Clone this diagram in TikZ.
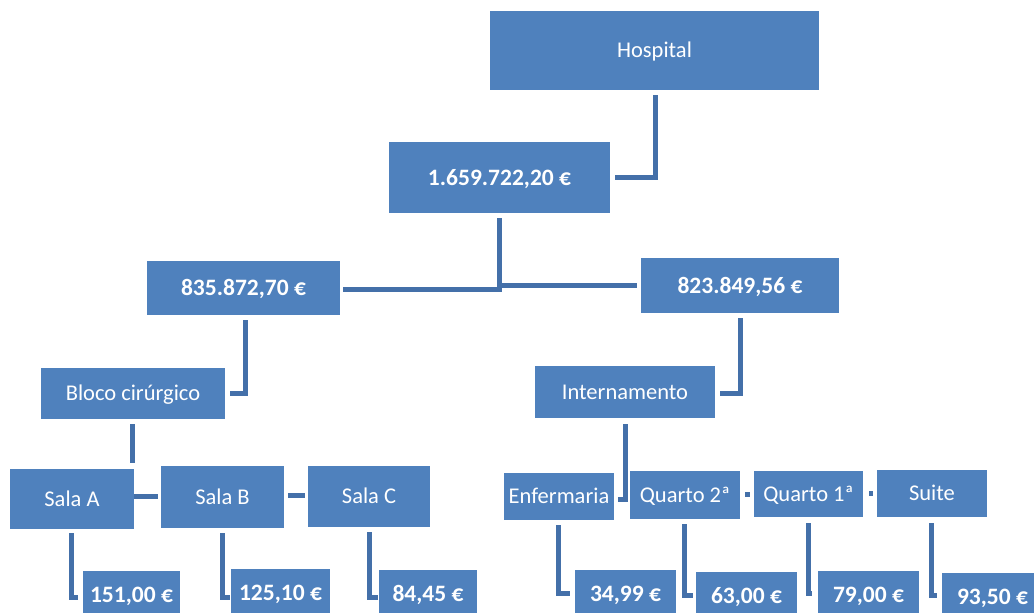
\documentclass[tikz,border=0pt]{standalone}
\usepackage{fontspec}
\setmainfont{Carlito}
\usetikzlibrary{calc}
\definecolor{boxblue}{HTML}{4F81BD}
\definecolor{connblue}{HTML}{4470A9}
\begin{document}
\begin{tikzpicture}[x=1pt,y=-1pt,
  box/.style={fill=boxblue, text=white, inner sep=0pt, draw=none,
    font=\fontsize{22.5}{26}\selectfont, text height=14.8pt, text depth=0pt},
  val/.style={box, font=\fontsize{23.5}{27}\selectfont\bfseries, text height=15.2pt},
  conn/.style={draw=connblue, line width=5pt}]
\useasboundingbox (0,0) rectangle (1034,613);
% nodes
\node[box, minimum width=329pt, minimum height=79pt] (hosp) at (654.5,50.5) {Hospital};
\node[val, minimum width=221pt, minimum height=71pt] (tot) at (499.5,177.5) {1.659.722,20 €};
\node[val, minimum width=193pt, minimum height=54pt] (bc) at (243.5,288) {835.872,70 €};
\node[val, minimum width=198pt, minimum height=55pt] (int) at (740,285.5) {823.849,56 €};
\node[box, minimum width=184pt, minimum height=51pt] (bloco) at (133,393.5) {Bloco cirúrgico};
\node[box, minimum width=180pt, minimum height=52pt] (intern) at (625,392) {Internamento};
\node[box, minimum width=124pt, minimum height=60pt] (salaA) at (72,499) {Sala A};
\node[box, minimum width=123pt, minimum height=62pt] (salaB) at (222.5,497) {Sala B};
\node[box, minimum width=122pt, minimum height=61pt] (salaC) at (369,496.5) {Sala C};
\node[box, minimum width=110pt, minimum height=47pt] (enf) at (559,496.5) {Enfermaria};
\node[box, minimum width=110pt, minimum height=48pt] (q2) at (685,495) {Quarto 2ª};
\node[box, minimum width=109pt, minimum height=46pt] (q1) at (808.5,494) {Quarto 1ª};
\node[box, minimum width=110pt, minimum height=47pt] (suite) at (932,493.5) {Suite};
\node[val, minimum width=97pt, minimum height=48pt] (v151) at (131.5,595) {151,00 €};
\node[val, minimum width=99pt, minimum height=48pt] (v125) at (280.5,593) {125,10 €};
\node[val, minimum width=98pt, minimum height=48pt] (v84) at (428,594) {84,45 €};
\node[val, minimum width=101pt, minimum height=48pt] (v34) at (625.5,594) {34,99 €};
\node[val, minimum width=101pt, minimum height=48pt] (v63) at (746.5,596) {63,00 €};
\node[val, minimum width=101pt, minimum height=48pt] (v79) at (868.5,595) {79,00 €};
\node[val, minimum width=101pt, minimum height=48pt] (v93) at (992.5,597) {93,50 €};
% connectors
\draw[conn] ([xshift=0.5pt,yshift=-5pt]hosp.south) |- ([xshift=5pt]tot.east);
\draw[conn] ([yshift=-5pt]tot.south) |- ([xshift=3pt,yshift=-1pt]bc.east);
\draw[conn] ([yshift=-5pt]tot.south) |- ([xshift=-4pt]int.west);
\draw[conn] ([xshift=1.5pt,yshift=-5pt]bc.south) |- ([xshift=5pt]bloco.east);
\draw[conn] ([yshift=-5pt]int.south) |- ([xshift=5pt,yshift=-1pt]intern.east);
\draw[conn] ([xshift=-1pt,yshift=-5pt]bloco.south) -- ($(bloco.south |- salaA.north)+(-1pt,6pt)$);
\draw[conn] ([yshift=3pt]salaA.east) -- ([xshift=-3pt,yshift=1pt]salaB.west);
\draw[conn] ([xshift=4pt,yshift=2pt]salaB.east) -- ([xshift=-3pt,yshift=1.5pt]salaC.west);
\draw[conn] ([xshift=-1pt,yshift=-4pt]salaA.south) |- ([xshift=-5pt,yshift=-2pt]v151.west);
\draw[conn] ([yshift=-5pt]salaB.south) |- ([xshift=-1pt,yshift=-4pt]v125.west);
\draw[conn] ([yshift=-5pt]salaC.south) |- ([xshift=-1pt,yshift=-3pt]v84.west);
\draw[conn] ([yshift=-6pt]intern.south) |- ([xshift=4pt,yshift=-2.5pt]enf.east);
\draw[conn] ([xshift=5pt,yshift=1pt]q2.east) -- ([xshift=-4pt]q1.west);
\draw[conn] ([xshift=6pt,yshift=1pt]q1.east) -- ([xshift=-4pt,yshift=0.5pt]suite.west);
\draw[conn] ([xshift=-1pt,yshift=-5pt]enf.south) |- ([xshift=-5pt,yshift=1pt]v34.west);
\draw[conn] ([xshift=-1pt,yshift=-5pt]q2.south) |- ([xshift=-3pt,yshift=1pt]v63.west);
\draw[conn] ([yshift=-6pt]q1.south) |- ([xshift=-6pt,yshift=2pt]v79.west);
\draw[conn] ([xshift=-1pt,yshift=-6pt]suite.south) |- ([xshift=-5pt,yshift=2pt]v93.west);
\end{tikzpicture}
\end{document}
